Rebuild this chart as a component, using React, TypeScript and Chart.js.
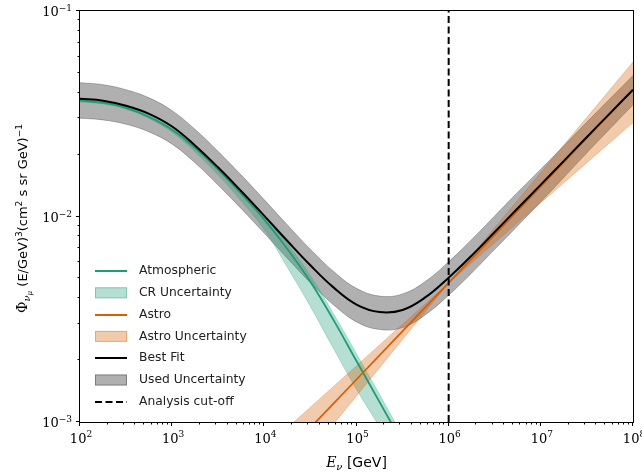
import React, { useEffect, useRef } from "react";
import { Chart, registerables } from "chart.js";

Chart.register(...registerables);

// ---------------- data ----------------
const energyGeV = [
  100, 178, 316, 562, 1e3, 1780, 3160, 5620, 1e4, 17800, 31600, 56200, 1e5,
  178000, 316000, 562000, 1e6, 1.78e6, 3.16e6, 5.62e6, 1e7, 1.78e7, 3.16e7, 5.62e7, 1e8,
];
const bestFit = [
  0.0374, 0.0366, 0.0346, 0.0316, 0.0274, 0.0221, 0.0173, 0.01327, 0.01007, 0.0076,
  0.00579, 0.00452, 0.00373, 0.00343, 0.00351, 0.00405, 0.00504, 0.00646, 0.00841,
  0.01096, 0.01429, 0.01866, 0.02438, 0.03177, 0.0414,
];
const usedUncHigh = [
  0.0448, 0.0438, 0.0414, 0.0378, 0.0327, 0.0265, 0.0207, 0.0159, 0.01205, 0.0091,
  0.00693, 0.00541, 0.00447, 0.0041, 0.0042, 0.00484, 0.00603, 0.00773, 0.01007,
  0.01312, 0.017, 0.0221, 0.0288, 0.0374, 0.0486,
];
const usedUncLow = [
  0.0301, 0.0295, 0.0281, 0.0258, 0.0225, 0.0182, 0.0142, 0.01091, 0.00828, 0.00625,
  0.00476, 0.00372, 0.00307, 0.00282, 0.00288, 0.00333, 0.00414, 0.00531, 0.00692,
  0.00902, 0.0118, 0.0155, 0.0204, 0.0267, 0.035,
];

const atmEnergyGeV = [
  100, 178, 316, 562, 1e3, 1780, 3160, 5620, 1e4, 17800, 31600, 56200, 1e5, 178000, 316000,
];
const atmospheric = [
  0.0366, 0.0357, 0.0338, 0.0305, 0.0264, 0.0215, 0.0169, 0.0129, 0.00966, 0.00695,
  0.00481, 0.00314, 0.00198, 0.00125, 0.000789,
];
const crUncHigh = [
  0.037, 0.0361, 0.0342, 0.0309, 0.0269, 0.022, 0.0173, 0.0134, 0.0101, 0.00736,
  0.00515, 0.00337, 0.00215, 0.00136, 0.000855,
];
const crUncLow = [
  0.0361, 0.0353, 0.0333, 0.03, 0.0257, 0.0206, 0.0159, 0.0119, 0.00861, 0.00565,
  0.00365, 0.00228, 0.00144, 0.000948, 0.000627,
];

const astroEnergyGeV = [1e4, 31600, 1e5, 316000, 1e6, 3.16e6, 1e7, 3.16e7, 1e8];
const astro = [0.000546, 0.000938, 0.00161, 0.00277, 0.00475, 0.00817, 0.01403, 0.0241, 0.0414];
const astroUncHigh = [0.000745, 0.00118, 0.00188, 0.00299, 0.00475, 0.00883, 0.01639, 0.0304, 0.0565];
const astroUncLow = [0.000378, 0.000711, 0.00134, 0.00252, 0.00475, 0.00745, 0.01167, 0.01828, 0.02864];

const cutoffEnergyGeV = 1e6;
const xRange = [1e2, 1e8];
const yRange = [1e-3, 1e-1];
const xTickExponents = [2, 3, 4, 5, 6, 7, 8];
const yTickExponents = [-3, -2, -1];

const legendLabels = [
  "Atmospheric",
  "CR Uncertainty",
  "Astro",
  "Astro Uncertainty",
  "Best Fit",
  "Used Uncertainty",
  "Analysis cut-off",
];

// ---------------- styles ----------------
const GREEN = "#1b9e77";
const ORANGE = "#d95f02";
const GREEN_FILL = "rgba(27,158,119,0.33)";
const ORANGE_FILL = "rgba(217,95,2,0.33)";
const GRAY_FILL = "rgba(0,0,0,0.31)";
const SANS = '"DejaVu Sans"';
const SERIF = '"DejaVu Serif"';

type Run = { t: string; font: string; dy?: number };

function drawRuns(ctx: CanvasRenderingContext2D, runs: Run[], x: number, y: number, align: "left" | "center" | "right") {
  let w = 0;
  for (const r of runs) {
    ctx.font = r.font;
    w += ctx.measureText(r.t).width;
  }
  let cx = align === "left" ? x : align === "center" ? x - w / 2 : x - w;
  ctx.textAlign = "left";
  ctx.textBaseline = "alphabetic";
  for (const r of runs) {
    ctx.font = r.font;
    ctx.fillText(r.t, cx, y + (r.dy || 0));
    cx += ctx.measureText(r.t).width;
  }
}

const supDigits = (n: number) => (n < 0 ? "\u2212" + String(-n) : String(n));

const decorPlugin = {
  id: "decor",
  afterDraw(chart: any) {
    const { ctx, chartArea: ca, scales } = chart;
    const xs = scales.x;
    const ys = scales.y;
    ctx.save();
    ctx.fillStyle = "#000";
    ctx.strokeStyle = "#000";
    ctx.lineWidth = 1;
    // frame
    ctx.strokeRect(Math.round(ca.left) - 0.5, Math.round(ca.top) - 0.5, Math.round(ca.right - ca.left) + 1, Math.round(ca.bottom - ca.top) + 1);

    // ticks
    ctx.beginPath();
    const bottom = Math.round(ca.bottom) + 0.5;
    const left = Math.round(ca.left) - 0.5;
    for (let i = 0; i < xTickExponents.length; i++) {
      const e = xTickExponents[i];
      const px = Math.round(xs.getPixelForValue(Math.pow(10, e))) - 0.5;
      ctx.moveTo(px, bottom);
      ctx.lineTo(px, bottom + 3.5);
      if (i < xTickExponents.length - 1) {
        for (let m = 2; m <= 9; m++) {
          const mx = Math.round(xs.getPixelForValue(m * Math.pow(10, e))) - 0.5;
          ctx.moveTo(mx, bottom);
          ctx.lineTo(mx, bottom + 2);
        }
      }
    }
    for (let i = 0; i < yTickExponents.length; i++) {
      const e = yTickExponents[i];
      const py = Math.round(ys.getPixelForValue(Math.pow(10, e))) - 0.5;
      ctx.moveTo(left, py);
      ctx.lineTo(left - 3.5, py);
      if (i < yTickExponents.length - 1) {
        for (let m = 2; m <= 9; m++) {
          const my = Math.round(ys.getPixelForValue(m * Math.pow(10, e))) - 0.5;
          ctx.moveTo(left, my);
          ctx.lineTo(left - 2, my);
        }
      }
    }
    ctx.stroke();

    // tick labels
    for (const e of xTickExponents) {
      const px = xs.getPixelForValue(Math.pow(10, e));
      drawRuns(ctx, [
        { t: "10", font: `13px ${SERIF}` },
        { t: supDigits(e), font: `9px ${SERIF}`, dy: -6 },
      ], px + 1, 443, "center");
    }
    for (const e of yTickExponents) {
      const py = ys.getPixelForValue(Math.pow(10, e));
      drawRuns(ctx, [
        { t: "10", font: `13px ${SERIF}` },
        { t: supDigits(e), font: `9px ${SERIF}`, dy: -5 },
      ], 72, py + 5, "right");
    }

    // x title
    drawRuns(ctx, [
      { t: "E", font: `italic 14px ${SERIF}` },
      { t: "\u03BD", font: `italic 10px ${SERIF}`, dy: 3 },
      { t: " [GeV]", font: `14px ${SANS}` },
    ], (ca.left + ca.right) / 2, 467, "center");

    // y title
    ctx.save();
    ctx.translate(27, (ca.top + ca.bottom) / 2 + 2);
    ctx.rotate(-Math.PI / 2);
    drawRuns(ctx, [
      { t: "\u03A6", font: `14px ${SERIF}` },
      { t: "\u03BD", font: `italic 10px ${SERIF}`, dy: 3 },
      { t: "\u03BC", font: `italic 7px ${SERIF}`, dy: 5 },
      { t: " (E/GeV)", font: `13px ${SANS}` },
      { t: "3", font: `9px ${SANS}`, dy: -5 },
      { t: "(cm", font: `13px ${SANS}` },
      { t: "2", font: `9px ${SANS}`, dy: -5 },
      { t: " s sr GeV)", font: `13px ${SANS}` },
      { t: "\u22121", font: `9px ${SANS}`, dy: -5 },
    ], 0, 0, "center");
    ctx.restore();

    // legend
    const kinds = ["line", "patch", "line", "patch", "line", "patch", "dash"];
    const strokes = [GREEN, GREEN, ORANGE, ORANGE, "#000", "#555", "#000"];
    const fills = ["", GREEN_FILL, "", ORANGE_FILL, "", GRAY_FILL, ""];
    const x0 = 95;
    const x1 = 127;
    for (let i = 0; i < legendLabels.length; i++) {
      const cy = 271 + i * 21.8;
      if (kinds[i] === "patch") {
        ctx.fillStyle = fills[i];
        ctx.fillRect(x0, cy - 5.5, x1 - x0, 11);
        ctx.strokeStyle = fills[i];
        ctx.lineWidth = 1;
        ctx.strokeRect(x0 + 0.5, cy - 5, x1 - x0 - 1, 10);
      } else {
        ctx.beginPath();
        ctx.strokeStyle = strokes[i];
        ctx.lineWidth = 2;
        ctx.setLineDash(kinds[i] === "dash" ? [7, 3.5] : []);
        ctx.moveTo(x0, Math.round(cy));
        ctx.lineTo(x1, Math.round(cy));
        ctx.stroke();
        ctx.setLineDash([]);
      }
      ctx.fillStyle = "#222";
      ctx.font = `12.3px ${SANS}`;
      ctx.textAlign = "left";
      ctx.textBaseline = "middle";
      ctx.fillText(legendLabels[i], 139, cy);
    }
    ctx.restore();
  },
};

const pts = (xs: number[], ys: number[]) => xs.map((x, i) => ({ x, y: ys[i] }));

export default function App() {
  const ref = useRef<HTMLCanvasElement>(null);
  useEffect(() => {
    const canvas = ref.current;
    if (!canvas) return;
    const base = { pointRadius: 0, pointHoverRadius: 0, capBezierPoints: false, clip: 0 } as any;
    const smooth = { tension: 0.4, cubicInterpolationMode: "default" };
    const chart = new Chart(canvas, {
      type: "line",
      data: {
        datasets: [
          { ...base, label: "Analysis cut-off", data: [{ x: cutoffEnergyGeV, y: yRange[0] }, { x: cutoffEnergyGeV, y: yRange[1] }], borderColor: "#000", borderWidth: 2, borderDash: [7, 3.5], fill: false, order: 0 },
          { ...base, ...smooth, label: "Best Fit", data: pts(energyGeV, bestFit), borderColor: "#000", borderWidth: 2, fill: false, order: 1 },
          { ...base, label: "Astro", data: pts(astroEnergyGeV, astro), borderColor: ORANGE, borderWidth: 1.8, tension: 0, fill: false, order: 2 },
          { ...base, ...smooth, label: "Atmospheric", data: pts(atmEnergyGeV, atmospheric), borderColor: GREEN, borderWidth: 1.8, fill: false, order: 3 },
          { ...base, label: "Astro Uncertainty hi", data: pts(astroEnergyGeV, astroUncHigh), borderColor: "rgba(217,95,2,0.25)", borderWidth: 1, tension: 0, fill: false, order: 4 },
          { ...base, label: "Astro Uncertainty", data: pts(astroEnergyGeV, astroUncLow), borderColor: "rgba(217,95,2,0.25)", borderWidth: 1, tension: 0, fill: "-1", backgroundColor: ORANGE_FILL, order: 4 },
          { ...base, ...smooth, label: "CR Uncertainty hi", data: pts(atmEnergyGeV, crUncHigh), borderColor: "rgba(27,158,119,0.25)", borderWidth: 1, fill: false, order: 5 },
          { ...base, ...smooth, label: "CR Uncertainty", data: pts(atmEnergyGeV, crUncLow), borderColor: "rgba(27,158,119,0.25)", borderWidth: 1, fill: "-1", backgroundColor: GREEN_FILL, order: 5 },
          { ...base, ...smooth, label: "Used Uncertainty hi", data: pts(energyGeV, usedUncHigh), borderColor: "rgba(0,0,0,0.25)", borderWidth: 1, fill: false, order: 6 },
          { ...base, ...smooth, label: "Used Uncertainty", data: pts(energyGeV, usedUncLow), borderColor: "rgba(0,0,0,0.25)", borderWidth: 1, fill: "-1", backgroundColor: GRAY_FILL, order: 6 },
        ],
      },
      options: {
        animation: false,
        responsive: false,
        devicePixelRatio: 1,
        events: [],
        layout: { padding: { left: 80, right: 9, top: 11, bottom: 54 } },
        scales: {
          x: { type: "logarithmic", min: xRange[0], max: xRange[1], display: false },
          y: { type: "logarithmic", min: yRange[0], max: yRange[1], display: false },
        },
        plugins: { legend: { display: false }, tooltip: { enabled: false } },
      } as any,
      plugins: [decorPlugin],
    });
    let alive = true;
    const fs = (document as any).fonts;
    if (fs && fs.load) {
      Promise.all([
        fs.load(`13px ${SANS}`),
        fs.load(`13px ${SERIF}`),
        fs.load(`italic 13px ${SERIF}`),
      ]).then(() => { if (alive) chart.draw(); }).catch(() => {});
    }
    return () => {
      alive = false;
      chart.destroy();
    };
  }, []);
  return (
    <div style={{ position: "fixed", left: 0, top: 0, width: 642, height: 476, background: "#fff" }}>
      <canvas ref={ref} width={642} height={476} style={{ display: "block", width: 642, height: 476 }} />
    </div>
  );
}
